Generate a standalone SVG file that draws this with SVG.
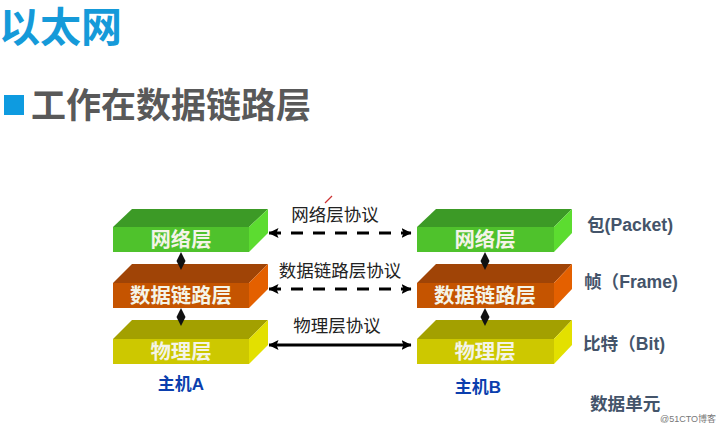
<svg xmlns="http://www.w3.org/2000/svg" width="720" height="428" viewBox="0 0 720 428">
<defs>
<marker id="ah" viewBox="0 0 10 10" refX="9.5" refY="5" markerWidth="10" markerHeight="10" markerUnits="userSpaceOnUse" orient="auto-start-reverse"><path d="M0 0L10 5L0 10L2 5Z" fill="#000"/></marker>
<g id="dia"><path d="M0 -9L4.500 0L0 9L-4.500 0Z" fill="#111"/></g>
</defs>
<style>
text{font-family:"Liberation Sans","Noto Sans CJK SC",sans-serif}
.b{font-weight:700}
.nl{font-size:20.400px;font-weight:700;fill:#f4f4e8;text-anchor:middle}
.pl{font-size:17.500px;fill:#222;text-anchor:middle}
.ul{font-size:17.600px;font-weight:700;fill:#44546a}
.host{font-size:17px;font-weight:700;fill:#0b3fae;text-anchor:middle}
.gt{fill:#3c9a26}.gf{fill:#4fc22c}.gs{fill:#5cdc30}
.ot{fill:#a04406}.of{fill:#c55400}.os{fill:#e46000}
.yt{fill:#a3a000}.yf{fill:#cdc800}.ys{fill:#e3e000}
.c{stroke:#000;stroke-width:3;fill:none;marker-start:url(#ah);marker-end:url(#ah)}
.d{stroke-dasharray:12 10}
</style>
<rect width="720" height="428" fill="#fff"/>
<text x="-1" y="42" class="b" font-size="41" fill="#159ad9">以太网</text>
<rect x="4" y="95" width="20" height="20" fill="#0e9be0"/>
<text x="31" y="118" class="b" font-size="35" fill="#595959">工作在数据链路层</text>
<path d="M332 196L325 203" stroke="#c33" stroke-width="1.200" fill="none"/>
<g id="a-net"><path class="gt" d="M113 227L132 209H268L249 227Z"/><rect class="gf" x="113" y="227" width="136" height="25"/><path class="gs" d="M249 227L268 209V233L249 252Z"/><text class="nl" x="181" y="247">网络层</text></g>
<g id="a-link"><path class="ot" d="M113 283L132 264H268L249 283Z"/><rect class="of" x="113" y="283" width="136" height="25"/><path class="os" d="M249 283L268 264V289L249 308Z"/><text class="nl" x="181" y="303">数据链路层</text></g>
<g id="a-phy"><path class="yt" d="M113 339L132 320H268L249 339Z"/><rect class="yf" x="113" y="339" width="136" height="25"/><path class="ys" d="M249 339L268 320V345L249 364Z"/><text class="nl" x="181" y="359">物理层</text></g>
<g id="b-net"><path class="gt" d="M417 227L436 209H572L554 227Z"/><rect class="gf" x="417" y="227" width="137" height="25"/><path class="gs" d="M554 227L572 209V233L554 252Z"/><text class="nl" x="485" y="247">网络层</text></g>
<g id="b-link"><path class="ot" d="M417 283L436 264H572L554 283Z"/><rect class="of" x="417" y="283" width="137" height="25"/><path class="os" d="M554 283L572 264V289L554 308Z"/><text class="nl" x="485" y="303">数据链路层</text></g>
<g id="b-phy"><path class="yt" d="M417 339L436 320H572L554 339Z"/><rect class="yf" x="417" y="339" width="137" height="25"/><path class="ys" d="M554 339L572 320V345L554 364Z"/><text class="nl" x="485" y="359">物理层</text></g>
<g id="connectors">
<path class="c d" d="M269 233H411"/>
<path class="c d" d="M269 289H411"/>
<path class="c" d="M269 345H411"/>
<use href="#dia" x="181" y="261"/>
<use href="#dia" x="181" y="317"/>
<use href="#dia" x="485" y="261"/>
<use href="#dia" x="485" y="317"/>
</g>
<text class="pl" x="335" y="221">网络层协议</text>
<text class="pl" x="340" y="277">数据链路层协议</text>
<text class="pl" x="337" y="332">物理层协议</text>
<text class="host" x="181" y="390">主机A</text>
<text class="host" x="478" y="393">主机B</text>
<text class="ul" x="587" y="231">包(Packet)</text>
<text class="ul" x="584" y="288">帧（Frame)</text>
<text class="ul" x="583" y="350">比特（Bit)</text>
<text class="ul" x="590" y="410">数据单元</text>
<text x="660" y="422" font-size="9" fill="#777">@51CTO博客</text>
</svg>
